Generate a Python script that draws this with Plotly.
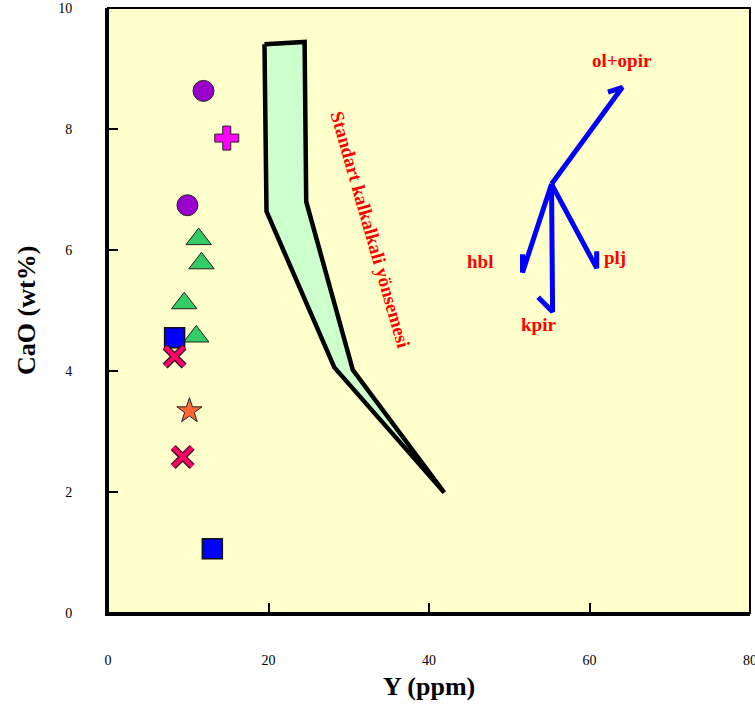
import plotly.graph_objects as go

# ---- data ----
circle_x = [11.9, 9.9]
circle_y = [8.63, 6.74]
plus_x = [14.8]
plus_y = [7.85]
tri_x = [11.3, 11.65, 9.5, 11.0]
tri_y = [6.18, 5.78, 5.12, 4.57]
square_x = [8.3, 13.0]
square_y = [4.55, 1.06]
xmark_x = [8.3, 9.3]
xmark_y = [4.24, 2.58]
star_x = [10.15]
star_y = [3.34]

field_x = [19.5, 24.5, 24.7, 30.5, 41.9, 28.2, 19.75, 19.5]
field_y = [9.40, 9.44, 6.80, 4.02, 1.99, 4.06, 6.64, 9.40]

vec_origin = (55.27, 7.09)
vec_names = ["ol+opir", "hbl", "kpir", "plj"]
vec_tip_x = [64.1, 51.65, 55.4, 60.9]
vec_tip_y = [8.69, 5.63, 4.98, 5.70]
vec_barb_x = [62.3, 51.65, 53.6, 60.9]
vec_barb_y = [8.61, 5.93, 5.22, 5.98]
vec_label_x = [64.0, 46.3, 53.6, 63.2]
vec_label_y = [9.14, 5.81, 4.77, 5.88]

trend_label = "Standart kalkalkali yönsemesi"
trend_pos = (32.7, 6.34)

x_ticks = [0, 20, 40, 60, 80]
y_ticks = [0, 2, 4, 6, 8, 10]

fig = go.Figure()

# field polygon
fig.add_trace(go.Scatter(x=field_x, y=field_y, mode="lines", fill="toself",
                         fillcolor="#CCFFCC",
                         line=dict(color="black", width=4.5),
                         hoverinfo="skip"))

# vectors
for i in range(len(vec_names)):
    fig.add_trace(go.Scatter(
        x=[vec_origin[0], vec_tip_x[i], vec_barb_x[i]],
        y=[vec_origin[1], vec_tip_y[i], vec_barb_y[i]],
        mode="lines", line=dict(color="#0000FF", width=5),
        hoverinfo="skip"))

mline = dict(color="#222222", width=1)
fig.add_trace(go.Scatter(x=circle_x, y=circle_y, mode="markers",
                         marker=dict(symbol="circle", size=21, color="#9900CC", line=mline)))
fig.add_trace(go.Scatter(x=plus_x, y=plus_y, mode="markers",
                         marker=dict(symbol="cross", size=20, color="#FF00FF", line=mline)))
fig.add_trace(go.Scatter(x=tri_x, y=tri_y, mode="markers",
                         marker=dict(symbol="triangle-up", size=22, color="#33CC66", line=mline)))
fig.add_trace(go.Scatter(x=square_x, y=square_y, mode="markers",
                         marker=dict(symbol="square", size=20, color="#0000FF", line=dict(color="#111111", width=1.5))))
# X marks: dark outline under a crimson stroke
fig.add_trace(go.Scatter(x=xmark_x, y=xmark_y, mode="markers",
                         marker=dict(symbol="x-thin-open", size=19, color="#331122",
                                     line=dict(color="#331122", width=7))))
fig.add_trace(go.Scatter(x=xmark_x, y=xmark_y, mode="markers",
                         marker=dict(symbol="x-thin-open", size=19, color="#FF0066",
                                     line=dict(color="#FF0066", width=4.5))))
fig.add_trace(go.Scatter(x=star_x, y=star_y, mode="markers",
                         marker=dict(symbol="star", size=19, color="#FF6633", line=mline)))

# labels
for i, name in enumerate(vec_names):
    fig.add_annotation(x=vec_label_x[i], y=vec_label_y[i], text="<b>%s</b>" % name,
                       showarrow=False,
                       font=dict(family="Liberation Serif", size=19, color="#FF0000"))

fig.add_annotation(x=trend_pos[0], y=trend_pos[1], text="<b>%s</b>" % trend_label,
                   showarrow=False, textangle=74,
                   font=dict(family="Liberation Serif", size=19, color="#FF0000"))

# axis titles
fig.add_annotation(xref="paper", yref="paper", x=0.5, y=-0.122,
                   xanchor="center", yanchor="middle",
                   text="<b>Y (ppm)</b>", showarrow=False,
                   font=dict(family="Liberation Serif", size=26, color="black"))
fig.add_annotation(xref="paper", yref="paper", x=-0.127, y=0.5,
                   xanchor="center", yanchor="middle",
                   text="<b>CaO (wt%)</b>", showarrow=False, textangle=-90,
                   font=dict(family="Liberation Serif", size=26, color="black"))

# frame
fig.add_shape(type="rect", xref="paper", yref="paper", x0=0, y0=0, x1=1, y1=1,
              line=dict(color="black", width=2), layer="above")

fig.update_layout(
    width=755, height=707,
    margin=dict(l=108, r=5, t=8, b=94, autoexpand=False),
    paper_bgcolor="white", plot_bgcolor="#FFFFCC",
    showlegend=False,
    font=dict(family="Liberation Serif", size=14, color="black"),
)
fig.update_xaxes(range=[0, 80], tickvals=x_ticks, ticks="inside", ticklen=10,
                 tickwidth=2, tickcolor="black", showgrid=False, zeroline=False,
                 showline=True, linewidth=3, linecolor="black", automargin=False,
                 ticklabelstandoff=32, ticklabeloverflow="allow",
                 tickfont=dict(size=14))
fig.update_yaxes(range=[0, 10], tickvals=y_ticks, ticks="inside", ticklen=10,
                 tickwidth=2, tickcolor="black", showgrid=False, zeroline=False,
                 showline=True, linewidth=3, linecolor="black", automargin=False,
                 ticklabelstandoff=30, ticklabeloverflow="allow",
                 tickfont=dict(size=14))

fig.write_html("out.html", config={"displayModeBar": False},
               post_script="document.body.style.margin='0px';document.body.style.overflow='hidden';")
